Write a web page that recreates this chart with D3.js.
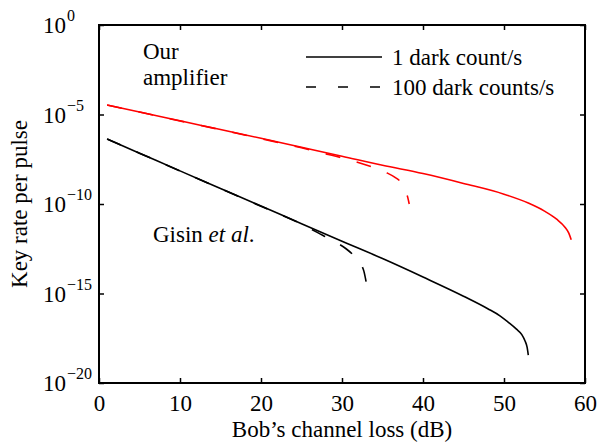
<!DOCTYPE html>
<html>
<head>
	<meta charset="utf-8" />
	<title>Key rate per pulse</title>
	<style type="text/css">
	*{margin:0px;padding:0px;}
	body{background:#fff;}
	svg text{font-family:"Liberation Serif","Times New Roman",serif;fill:#000;}
	</style>
</head>
<body>
	<script type="text/javascript" src="https://cdn.jsdelivr.net/npm/d3@7/dist/d3.min.js"></script>
	<script type="text/javascript">

		// data: channel loss (dB) and log10 of key rate per pulse
		var redSolidLoss = [1, 5, 10, 15, 20, 25, 30, 35, 40, 45, 50, 53, 55, 56.5, 57.5, 58, 58.3];
		var redSolidLog  = [-4.47, -4.86, -5.35, -5.84, -6.33, -6.83, -7.33, -7.84, -8.3, -8.85, -9.45, -9.95, -10.4, -10.85, -11.28, -11.63, -12.0];

		var redDashLoss = [1, 5, 10, 15, 20, 25, 28, 30, 32, 34, 35.5, 36.5, 37.3, 37.8, 38.1, 38.3];
		var redDashLog  = [-4.47, -4.86, -5.36, -5.85, -6.35, -6.86, -7.2, -7.42, -7.68, -7.98, -8.25, -8.5, -8.8, -9.2, -9.6, -10.0];

		var blackSolidLoss = [1, 5, 10, 15, 20, 25, 30, 35, 40, 45, 48, 49.5, 50.5, 51.5, 52.2, 52.6, 52.85, 53];
		var blackSolidLog  = [-6.37, -7.16, -8.15, -9.13, -10.11, -11.1, -12.08, -13.05, -14.08, -15.15, -15.85, -16.25, -16.6, -16.98, -17.3, -17.65, -18.0, -18.44];

		var blackDashLoss = [1, 5, 10, 15, 20, 25, 27, 29, 30.5, 31.5, 32.3, 32.7, 33];
		var blackDashLog  = [-6.37, -7.16, -8.15, -9.14, -10.13, -11.12, -11.6, -12.08, -12.5, -12.9, -13.35, -13.75, -14.4];

		var xTicks = [0, 10, 20, 30, 40, 50, 60];
		var yTickExp = [0, -5, -10, -15, -20];
		var legendLabels = ["1 dark count/s", "100 dark counts/s"];

		var W = 599, H = 444;
		var pL = 99, pR = 585, pT = 25, pB = 383;

		var svg = d3.select("body").append("svg").attr("width", W).attr("height", H);

		var x = d3.scaleLinear().domain([0, 60]).range([pL, pR]);
		var y = d3.scaleLog().domain([1e-20, 1]).range([pB, pT]);

		function toPoints(loss, logs)
		{
			return loss.map(function(d, i){ return [d, Math.pow(10, logs[i])]; });
		}

		var line = d3.line()
			.x(function(d){ return x(d[0]); })
			.y(function(d){ return y(d[1]); })
			.curve(d3.curveMonotoneX);

		var series = [
			{pts: toPoints(redSolidLoss, redSolidLog), color: "#ff0000", dash: null},
			{pts: toPoints(redDashLoss, redDashLog), color: "#ff0000", dash: "15,17"},
			{pts: toPoints(blackSolidLoss, blackSolidLog), color: "#000", dash: null},
			{pts: toPoints(blackDashLoss, blackDashLog), color: "#000", dash: "15,17"}
		];

		svg.selectAll("path.curve")
			.data(series).enter().append("path")
			.attr("class", "curve")
			.attr("d", function(d){ return line(d.pts); })
			.attr("fill", "none")
			.attr("stroke", function(d){ return d.color; })
			.attr("stroke-width", 1.6)
			.attr("stroke-dasharray", function(d){ return d.dash; });

		// x axis (bottom with labels, top ticks only)
		var gx = svg.append("g").attr("transform", "translate(0," + pB + ")")
			.call(d3.axisBottom(x).tickValues(xTicks).tickSize(-5).tickPadding(12).tickFormat(d3.format("d")));
		gx.selectAll("text").attr("font-size", 23).attr("font-family", null);
		svg.append("g").attr("transform", "translate(0," + pT + ")")
			.call(d3.axisTop(x).tickValues(xTicks).tickSize(-5).tickFormat(""));

		// y axis
		var yTicks = yTickExp.map(function(e){ return Math.pow(10, e); });
		svg.append("g").attr("transform", "translate(" + pL + ",0)")
			.call(d3.axisLeft(y).tickValues(yTicks).tickSize(-5).tickFormat(""));
		svg.append("g").attr("transform", "translate(" + pR + ",0)")
			.call(d3.axisRight(y).tickValues(yTicks).tickSize(-5).tickFormat(""));

		svg.selectAll(".domain").remove();
		svg.selectAll(".tick line").attr("stroke", "#000").attr("stroke-width", 1.5);

		var yl = svg.append("g").selectAll("g")
			.data(yTickExp).enter().append("g")
			.attr("transform", function(d){ return "translate(0," + y(Math.pow(10, d)) + ")"; });
		yl.append("text")
			.attr("x", 66).attr("y", 8)
			.attr("text-anchor", "end")
			.attr("font-size", 23)
			.text("10");
		yl.append("text")
			.attr("x", 67).attr("y", -4)
			.attr("font-size", 16)
			.text(function(d){ return d === 0 ? "0" : "\u2212" + (-d); });

		// frame
		svg.append("rect")
			.attr("x", pL).attr("y", pT)
			.attr("width", pR - pL).attr("height", pB - pT)
			.attr("fill", "none").attr("stroke", "#000").attr("stroke-width", 2);

		// axis titles
		svg.append("text")
			.attr("x", (pL + pR) / 2).attr("y", 437)
			.attr("text-anchor", "middle").attr("font-size", 23)
			.text("Bob\u2019s channel loss (dB)");
		svg.append("text")
			.attr("transform", "translate(27," + ((pT + pB) / 2) + ") rotate(-90)")
			.attr("text-anchor", "middle").attr("font-size", 23)
			.text("Key rate per pulse");

		// legend
		var lg = svg.append("g").selectAll("g")
			.data(legendLabels).enter().append("g")
			.attr("transform", function(d, i){ return "translate(0," + (57 + i * 30) + ")"; });
		lg.append("line")
			.attr("x1", 306).attr("x2", 382)
			.attr("stroke", "#000").attr("stroke-width", 1.6)
			.attr("stroke-dasharray", function(d, i){ return i ? "10,22" : null; });
		lg.append("text")
			.attr("x", 392).attr("y", 8)
			.attr("font-size", 23)
			.text(function(d){ return d; });

		// annotations
		svg.append("text").attr("x", 143).attr("y", 59).attr("font-size", 23).text("Our");
		svg.append("text").attr("x", 143).attr("y", 85).attr("font-size", 23).text("amplifier");
		var gis = svg.append("text").attr("x", 153).attr("y", 242).attr("font-size", 23);
		gis.append("tspan").text("Gisin ");
		gis.append("tspan").attr("font-style", "italic").text("et al");
		gis.append("tspan").text(".");

	</script>
</body>
</html>
